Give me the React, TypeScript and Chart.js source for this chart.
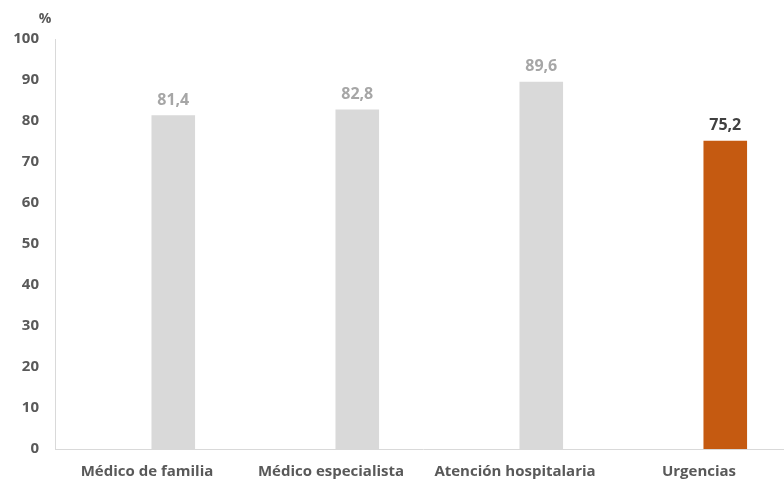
import React, { useEffect, useRef } from "react";
import { Chart, registerables } from "chart.js";

Chart.register(...registerables);

const categories = ["Médico de familia", "Médico especialista", "Atención hospitalaria", "Urgencias"];
const values = [81.4, 82.8, 89.6, 75.2];
const emptySeries = [null, null, null, null];
const barColors = ["#d9d9d9", "#d9d9d9", "#d9d9d9", "#c55a11"];
const labelColors = ["#a6a6a6", "#a6a6a6", "#a6a6a6", "#404040"];
const yMin = 0;
const yMax = 100;
const yStep = 10;
const unitLabel = "%";

const FONT = "'Open Sans', 'DejaVu Sans', sans-serif";

export default function App() {
  const ref = useRef<HTMLCanvasElement | null>(null);

  useEffect(() => {
    const canvas = ref.current;
    if (!canvas) return;

    const valueLabels = {
      id: "valueLabels",
      afterDatasetsDraw(chart: any) {
        const ctx = chart.ctx;
        const meta = chart.getDatasetMeta(1);
        ctx.save();
        ctx.font = `bold 16px ${FONT}`;
        ctx.textAlign = "center";
        ctx.textBaseline = "middle";
        meta.data.forEach((bar: any, i: number) => {
          ctx.fillStyle = labelColors[i];
          ctx.fillText(values[i].toFixed(1).replace(".", ","), bar.x, bar.y - 15);
        });
        ctx.restore();
      },
    };

    const unitPlugin = {
      id: "unitLabel",
      afterDraw(chart: any) {
        const ctx = chart.ctx;
        ctx.save();
        ctx.font = `bold 14px ${FONT}`;
        ctx.fillStyle = "#595959";
        ctx.textAlign = "center";
        ctx.textBaseline = "middle";
        ctx.fillText(unitLabel, 45, 19);
        ctx.restore();
      },
    };

    const chart = new Chart(canvas, {
      type: "bar",
      data: {
        labels: categories,
        datasets: [
          { data: emptySeries as any, backgroundColor: "#ffffff" },
          { data: values, backgroundColor: barColors },
        ],
      },
      options: {
        responsive: false,
        animation: false,
        layout: { padding: { top: 39, left: 0, right: 9, bottom: 0 } },
        datasets: {
          bar: { categoryPercentage: 0.571, barPercentage: 0.83 },
        },
        plugins: {
          legend: { display: false },
          tooltip: { enabled: false },
        },
        scales: {
          x: {
            grid: { display: false, drawTicks: false },
            border: { display: true, color: "#d9d9d9", width: 1 },
            ticks: {
              color: "#595959",
              font: { family: FONT, size: 15, weight: "bold" },
              padding: 14,
              maxRotation: 0,
              autoSkip: false,
            },
            afterFit(scale: any) {
              scale.height = 30;
            },
          },
          y: {
            min: yMin,
            max: yMax,
            grid: { display: false, drawTicks: false },
            border: { display: true, color: "#d9d9d9", width: 1 },
            ticks: {
              stepSize: yStep,
              color: "#595959",
              font: { family: FONT, size: 15, weight: "bold" },
              padding: 16,
            },
            afterFit(scale: any) {
              scale.width = 55;
            },
          },
        },
      },
      plugins: [valueLabels, unitPlugin],
    });

    return () => chart.destroy();
  }, []);

  return (
    <div style={{ position: "absolute", left: 0, top: 0, width: 784, height: 479, overflow: "hidden", background: "#ffffff" }}>
      <canvas ref={ref} width={800} height={479} style={{ width: 800, height: 479, display: "block" }} />
    </div>
  );
}
